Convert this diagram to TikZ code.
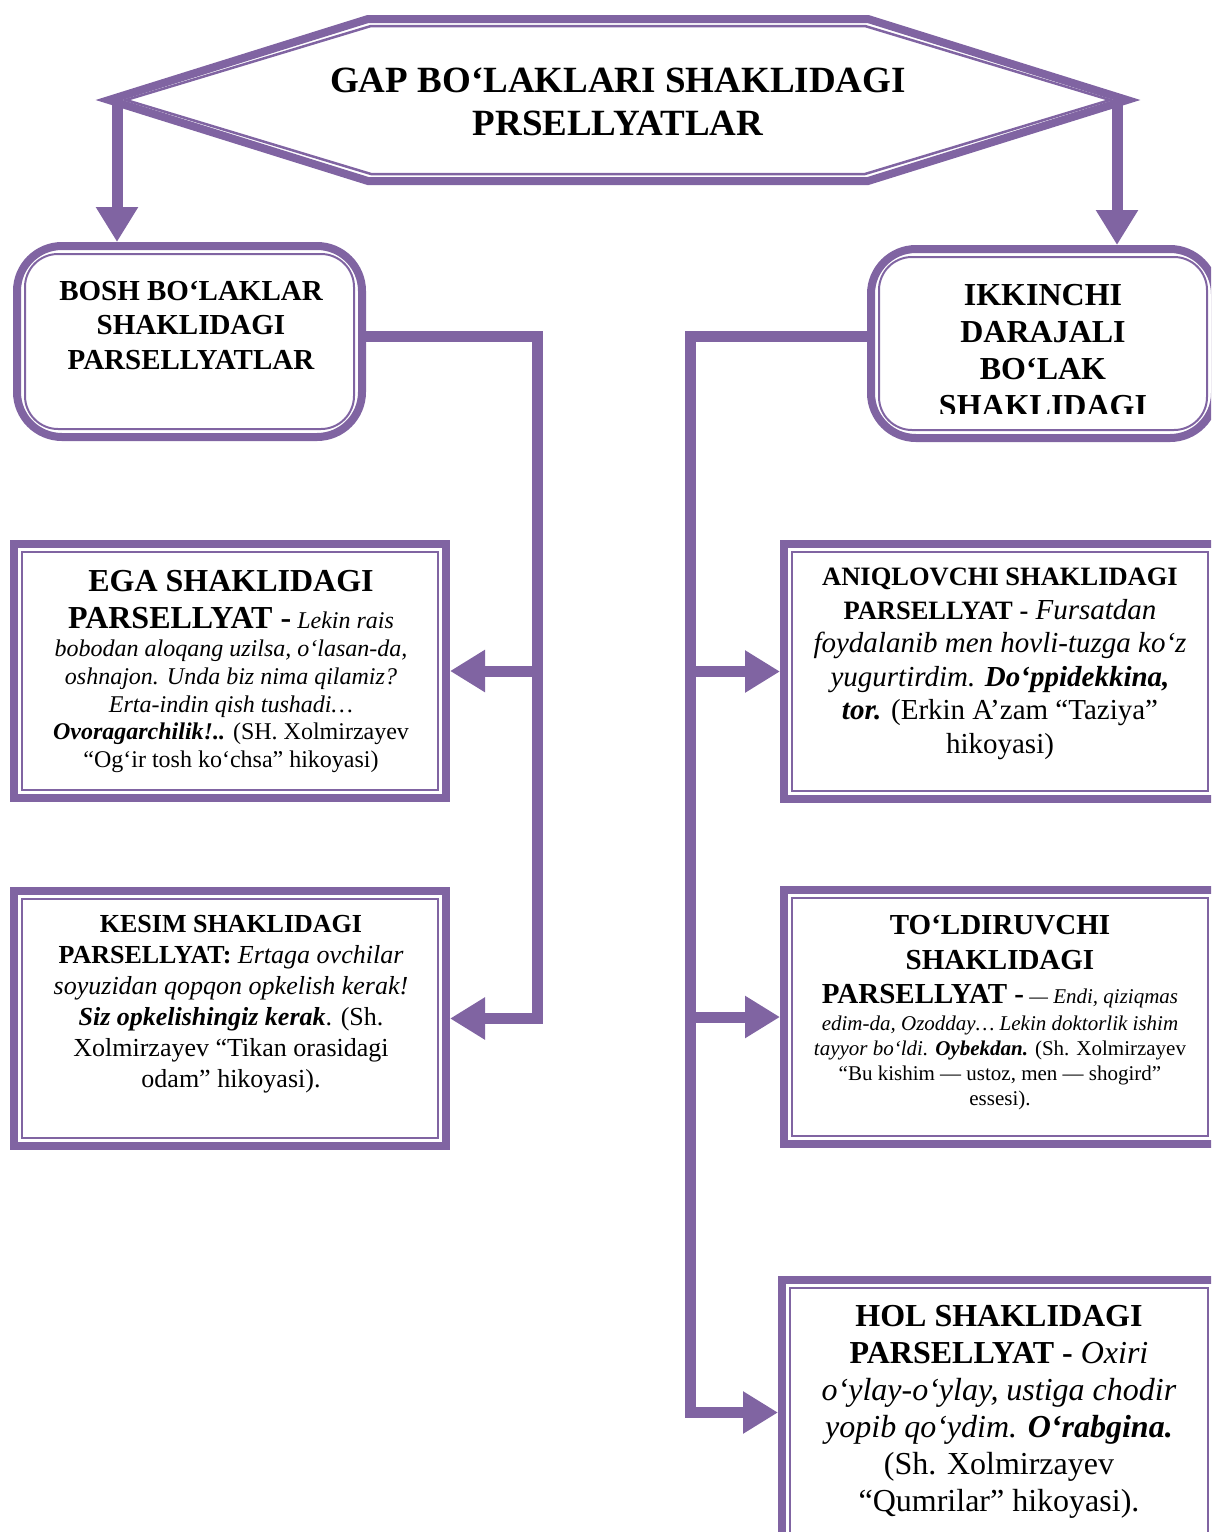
\documentclass[tikz,border=0pt]{standalone}
\usepackage{fontspec}
\setmainfont{Liberation Serif}
\usetikzlibrary{arrows.meta,positioning}
\definecolor{plum}{RGB}{128,100,162}
\newcommand{\fs}[2]{\fontsize{#1}{#2}\selectfont}

\begin{document}
\begin{tikzpicture}[x=1pt,y=-1pt,>={Triangle[length=35pt,width=40pt]},
	wire/.style={draw=plum,line width=11pt},
	frame/.style={draw=plum,line width=8pt,inner sep=0pt},
	roundframe/.style={frame,rounded corners=45pt},
	liner/.style={draw=plum,line width=2pt},
	txt/.style={align=center,inner sep=0pt,anchor=north}]
	\useasboundingbox (0,0) rectangle (1211,1532);
	\clip (0,0) rectangle (1211,1532);
	
	% boxes
	\node[roundframe,minimum width=345pt,minimum height=191pt] (bosh) at (189.5,341.5) {};
	\node[roundframe,minimum width=344pt,minimum height=189pt] (ikk) at (1043,343.5) {};
	\node[frame,minimum width=432pt,minimum height=254pt] (ega) at (230,671) {};
	\node[frame,minimum width=432pt,minimum height=255pt] (kesim) at (230,1018.5) {};
	\node[frame,minimum width=432pt,minimum height=255pt] (aniq) at (1000,671.5) {};
	\node[frame,minimum width=432pt,minimum height=254pt] (toldir) at (1000,1017) {};
	\node[frame,minimum width=434pt,minimum height=265pt] (hol) at (999,1412.5) {};
	\foreach \b in {ega,kesim,aniq,toldir,hol}
		\draw[liner] ([shift={(12,12)}]\b.north west) rectangle ([shift={(-12,-12)}]\b.south east);
	\foreach \b in {bosh,ikk}
		\draw[liner,rounded corners=33pt] ([shift={(12,12)}]\b.north west) rectangle ([shift={(-12,-12)}]\b.south east);
	
	% connectors
	\coordinate (tipL) at (117,100);
	\coordinate (tipR) at (1117,100);
	\coordinate (lbend) at (537,336);
	\coordinate (rbend) at (690,336);
	\draw[wire,->] (tipL) -- (tipL |- bosh.north);
	\draw[wire,->] (tipR) -- (tipR |- ikk.north);
	\draw[wire,->] (bosh.east |- lbend) -- (lbend) |- (kesim.east);
	\draw[wire,->] (lbend |- ega.east) -- (ega.east);
	\draw[wire,->] (ikk.west |- rbend) -- (rbend) |- (hol.west);
	\draw[wire,->] (rbend |- aniq.west) -- (aniq.west);
	\draw[wire,->] (rbend |- toldir.west) -- (toldir.west);
	
	% title
	\draw[plum,line width=8pt] (109,100) -- (368,19) -- (868,19) -- (1127,100) -- (868,181) -- (368,181) -- cycle;
	\draw[plum,line width=2.5pt] (126,100) -- (371,26) -- (865,26) -- (1110,100) -- (865,174) -- (371,174) -- cycle;
	\node[txt,font=\bfseries\fs{37}{43}] (title) at (618,68) {GAP BO‘LAKLARI SHAKLIDAGI\\PRSELLYATLAR};
	
	% texts
	\node[txt,font=\bfseries\fs{29}{34.5}] (boshtxt) at (191,281) {BOSH BO‘LAKLAR\\SHAKLIDAGI\\PARSELLYATLAR};
	\begin{scope}
		\clip (870,250) rectangle (1215,413);
		\node[txt,font=\bfseries\fs{32}{37}] (ikktxt) at (1043,284) {IKKINCHI\\DARAJALI\\BO‘LAK\\SHAKLIDAGI};
	\end{scope}
	\node[txt,font=\fs{24}{27.7}] (egatxt) at (231,570) {{\fs{32}{37}\bfseries EGA SHAKLIDAGI}\\[9pt]
		{\fs{32}{37}\bfseries PARSELLYAT -} \textit{Lekin rais}\\[1pt]
		\textit{bobodan aloqang uzilsa, o‘lasan-da,}\\
		\textit{oshnajon. Unda biz nima qilamiz?}\\
		\textit{Erta-indin qish tushadi…}\\
		\textbf{\textit{Ovoragarchilik!..}} (SH. Xolmirzayev\\
		“Og‘ir tosh ko‘chsa” hikoyasi)};
	\node[txt,font=\fs{26}{31}] (kesimtxt) at (231,915) {\textbf{KESIM SHAKLIDAGI}\\
		\textbf{PARSELLYAT:} \textit{Ertaga ovchilar}\\
		\textit{soyuzidan qopqon opkelish kerak!}\\
		\textbf{\textit{Siz opkelishingiz kerak}}. (Sh.\\
		Xolmirzayev “Tikan orasidagi\\
		odam” hikoyasi).};
	\node[txt,font=\fs{29}{33.5}] (aniqtxt) at (1000,568) {{\fs{26.5}{30}\bfseries ANIQLOVCHI SHAKLIDAGI}\\
		{\fs{26.5}{30}\bfseries PARSELLYAT -} \textit{Fursatdan}\\
		\textit{foydalanib men hovli-tuzga ko‘z}\\
		\textit{yugurtirdim.} \textbf{\textit{Do‘ppidekkina,}}\\
		\textbf{\textit{tor.}} (Erkin A’zam “Taziya”\\
		hikoyasi)};
	\node[txt,font=\fs{21}{25}] (toldirtxt) at (1000,915) {{\fs{29}{34}\bfseries TO‘LDIRUVCHI}\\[10pt]
		{\fs{29}{34}\bfseries SHAKLIDAGI}\\[9pt]
		{\fs{29}{34}\bfseries PARSELLYAT -} \textit{— Endi, qiziqmas}\\[2pt]
		\textit{edim-da, Ozodday… Lekin doktorlik ishim}\\
		\textit{tayyor bo‘ldi.} \textbf{\textit{Oybekdan.}} (Sh. Xolmirzayev\\
		“Bu kishim — ustoz, men — shogird”\\
		essesi).};
	\node[txt,font=\fs{32}{37}] (holtxt) at (999,1305) {\textbf{HOL SHAKLIDAGI}\\
		\textbf{PARSELLYAT -} \textit{Oxiri}\\
		\textit{o‘ylay-o‘ylay, ustiga chodir}\\
		\textit{yopib qo‘ydim.} \textbf{\textit{O‘rabgina.}}\\
		(Sh. Xolmirzayev\\
		“Qumrilar” hikoyasi).};
\end{tikzpicture}
\end{document}
